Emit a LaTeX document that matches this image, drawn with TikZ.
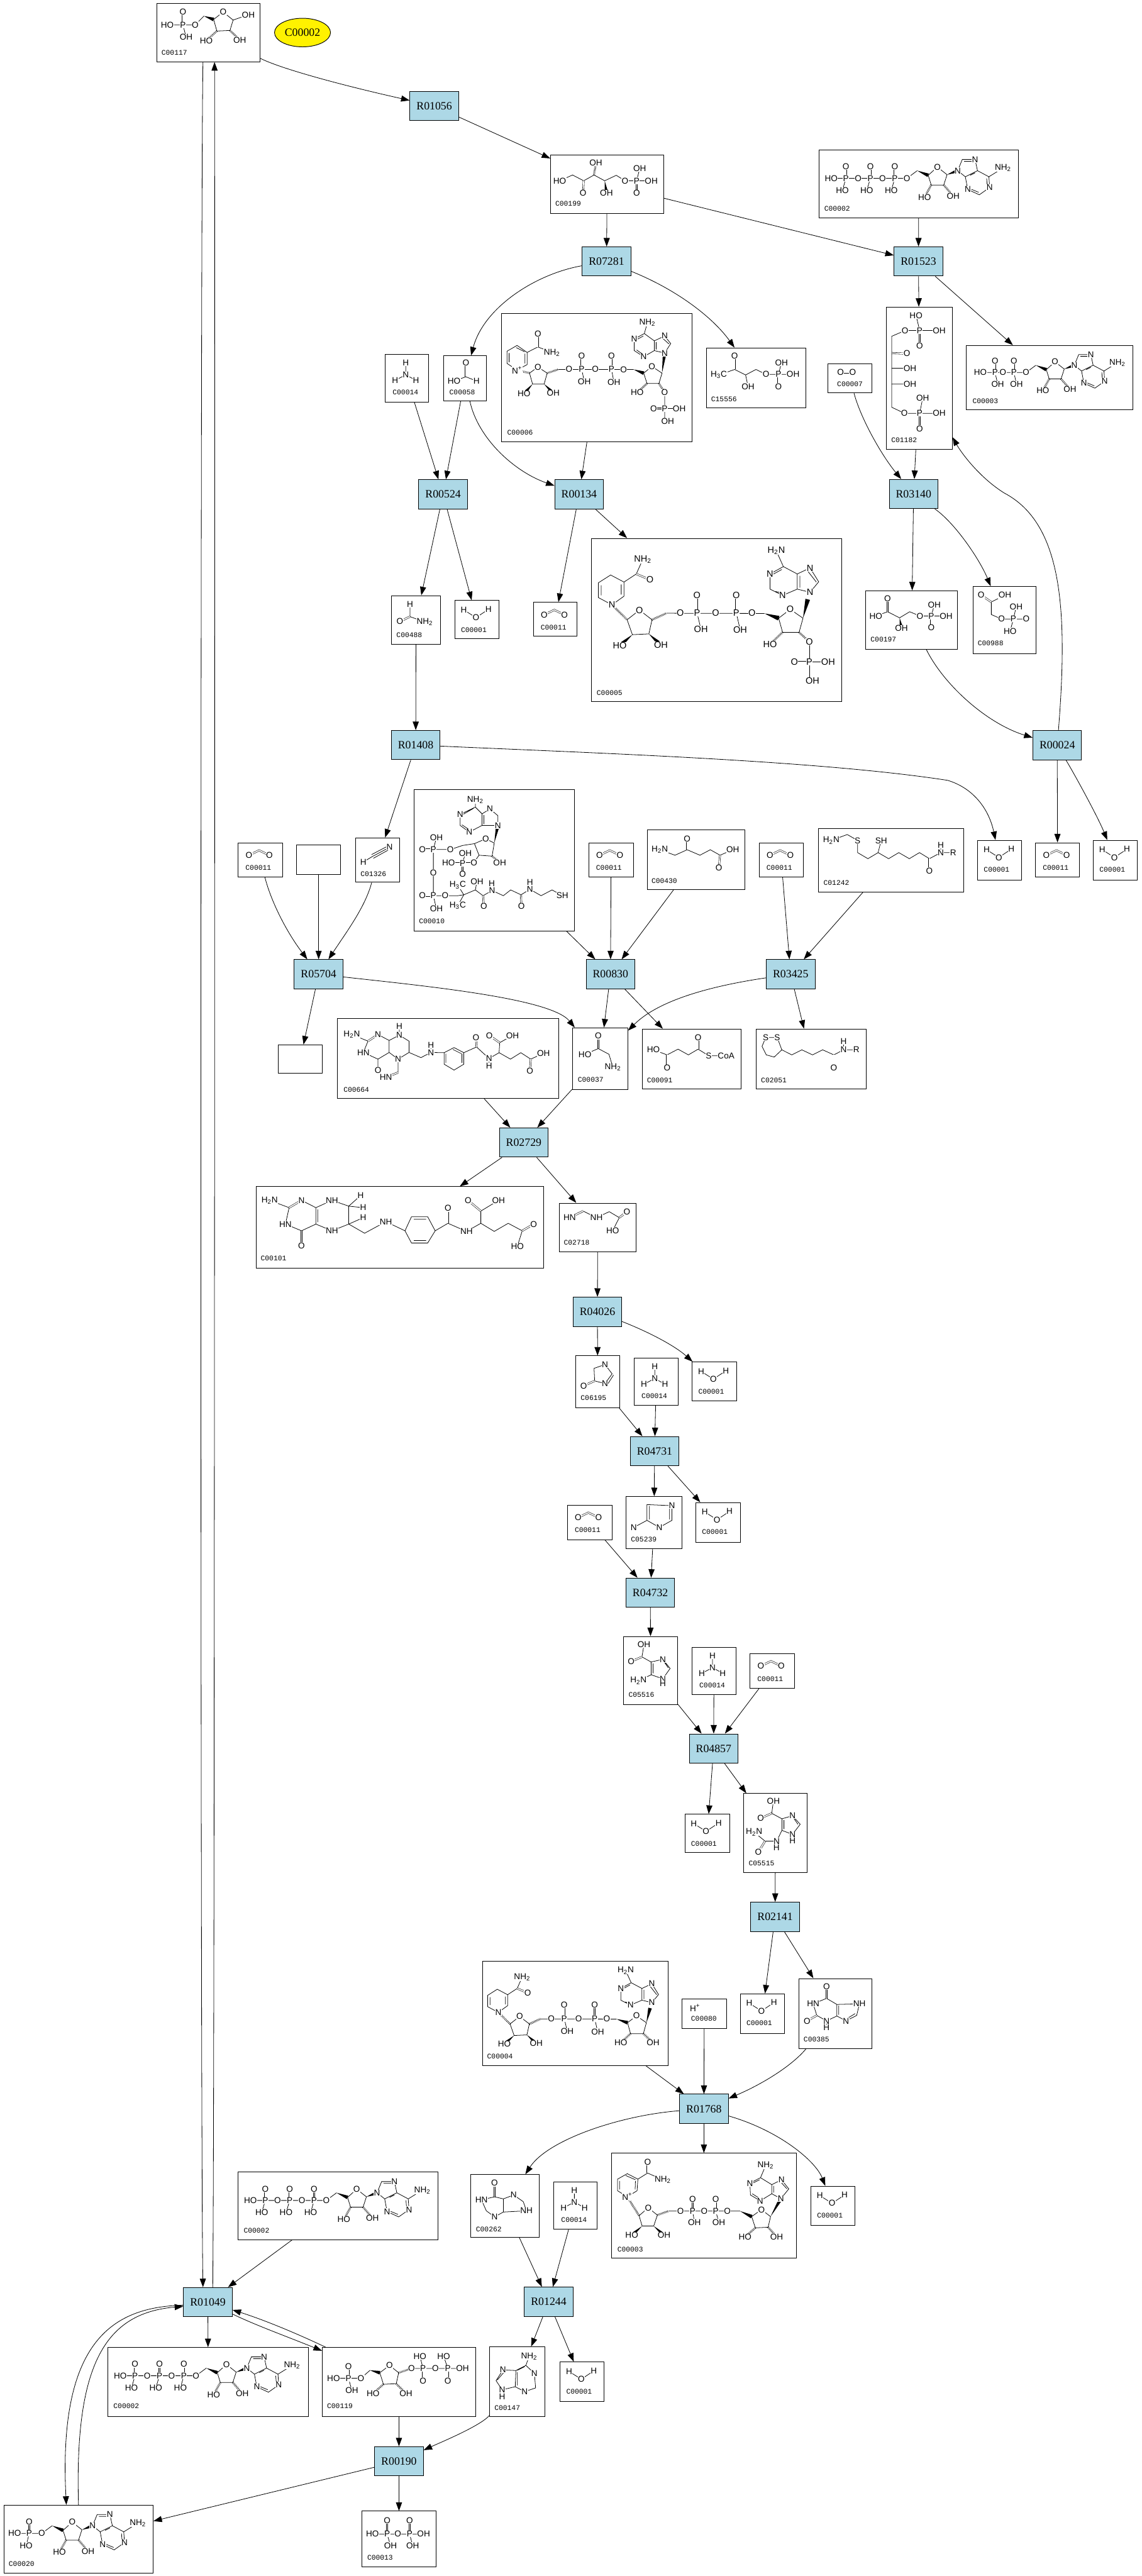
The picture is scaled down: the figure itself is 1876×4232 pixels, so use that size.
\documentclass[tikz,border=0pt]{standalone}
\usepackage{fontspec}
\setmainfont{Liberation Sans}
\newfontfamily\rxnfont{Liberation Serif}
\newfontfamily\cidfont{Liberation Mono}
\usetikzlibrary{arrows.meta,calc,shapes.geometric}
\definecolor{RxnBlue}{RGB}{173,216,230}
\newcounter{atomno}
\newcounter{cidno}
\def\molfs{7}
\tikzset{
  edge/.style={-{Triangle[length=7pt,width=5pt]},line width=.42pt,draw=black},
  reaction/.style={rectangle,draw=black,line width=.5pt,fill=RxnBlue,font=\rxnfont\fontsize{9.2}{10}\selectfont,minimum width=40pt,minimum height=24pt,inner sep=0pt},
  compound/.style={rectangle,draw=black,line width=.5pt,fill=white,anchor=north west,inner sep=0pt},
  seed/.style={ellipse,draw=black,line width=.5pt,fill=yellow,font=\rxnfont\fontsize{9.2}{10}\selectfont,minimum width=46pt,minimum height=23.5pt,inner sep=0pt},
  atom/.style={fill=white,inner sep=.25pt,font=\fontsize{\molfs}{\molfs}\selectfont},
  cid/.style={anchor=west,inner sep=0pt,font=\cidfont\fontsize{5.85}{6}\selectfont},
  bond/.style={line width=.4pt,draw=black},
  dbl/.style={line width=.3pt,draw=black,double=white,double distance=.9pt},
  hsh/.style={line width=1.7pt,draw=black,dash pattern=on .35pt off .75pt}
}
\newcommand\atm[2]{\stepcounter{atomno}\node[atom] (atom\arabic{atomno}) at (#1) {#2};}
\newcommand\atoms[1]{\foreach \ax/\ay/\at in {#1} {\atm{\ax,\ay}{\at}}}
\newcommand\cidl[2]{\stepcounter{cidno}\node[cid] (cid\arabic{cidno}) at (#1) {#2};}
\newcommand\wdg[2]{\fill ($(#2)!1.5pt!90:(#1)$) -- (#1) -- ($(#2)!1.5pt!-90:(#1)$) -- cycle;}
\newcommand\cpd[6][1]{%
  \node[compound,minimum width=#4*.5pt,minimum height=#5*.5pt] (#2) at (#3) {};
  \begin{scope}[shift={(#3)},scale=#1]
    \pgfmathsetmacro\molfs{5.25+1.75*#1}
    #6
  \end{scope}}
% small molecules
\newcommand\molWater{\draw[bond] (15,16)--(35,28.6)--(55.6,15);
  \atoms{15/16/H,35/28.6/O,55.6/15/H}\cidl{10,49}{C00001}}
\newcommand\molCO{\draw[dbl] (18,21)--(34.7,13)--(51.5,21);
  \atoms{18/21/O,51.5/21/O}\cidl{12,42}{C00011}}
\newcommand\molNH{\draw[bond] (34.7,14)--(34.7,33.7)--(17,43) (34.7,33.7)--(51.5,43);
  \atoms{34.7/14/H,34.7/33.7/N,17/43/H,51.5/43/H}\cidl{12.7,62.7}{C00014}}
\newcommand\molFormate{\draw[dbl] (37.4,12)--(37.4,35);\draw[bond] (18,42)--(37.4,35)--(55,42);
  \atoms{37.4/12/O,18/42/HO,55/42/H}\cidl{10,60}{C00058}}
\newcommand\molFormamide{\draw[bond] (30.6,15)--(30.6,35)--(55,44);\draw[dbl] (30.6,35)--(14,43);
  \atoms{30.6/15/H,14/43/O,55/44/NH\textsubscript{2}}\cidl{8,65}{C00488}}
\newcommand\molOxygen{\draw[dbl] (21,15)--(41,15);\atoms{21/15/O,41/15/O}\cidl{15,34}{C00007}}
\newcommand\molProton{\atoms{22/15.7/H\textsuperscript{+}}\cidl{15,33.3}{C00080}}
\newcommand\molHCN{\draw[bond] (13,40)--(28,31) (28,31)--(56,16) (26.5,28)--(54,13.5) (29.5,34)--(57.5,18.5);
  \atoms{13/40/H,56/16/N}\cidl{8,60}{C01326}}
% phosphorylated sugars
\newcommand\molRP{\draw[bond] (17.8,36)--(63.7,36)--(78,21.4) (43.6,36)--(48.8,56);
  \draw[dbl] (43.6,14.7)--(43.6,36);\wdg{78,21.4}{94,27}
  \draw[bond] (94,27)--(109.6,14.7)--(126,28)--(120.8,45)--(99.3,46)--cycle (126,28)--(151,19.2);
  \draw[hsh] (99.3,46)--(82,61.6) (120.8,45)--(137,60.7);
  \atoms{43.6/14.7/O,17.8/36/HO,43.6/36/P,48.8/56/OH,63.7/36/O,109.6/14.7/O,82/61.6/HO,137/60.7/OH,151/19.2/OH}
  \cidl{8,81.7}{C00117}}
\newcommand\molRuP{\draw[bond] (15.5,43)--(36.7,33.5)--(55,43)--(72,33.5)--(89.5,43)--(108.5,34)--(123,43)--(166,43) (142,43)--(147,23);
  \draw[dbl] (55,43)--(54,63);\draw[dbl] (142,43)--(142,63);\draw[hsh] (72,33.5)--(75,13.4);\wdg{89.5,43}{92.4,63}
  \atoms{15.5/43/HO,54/63/O,75/13.4/OH,92.4/63/OH,123/43/O,142/43/P,147/23/OH,166/43/OH,142/63/O}
  \cidl{8,81}{C00199}}
\newcommand\molRuBP{\draw[bond] (49,14)--(55,39) (31,39)--(87,39) (31,39)--(9,48.5)--(9,165)--(30,175)--(87,175) (9,101)--(39,101) (9,127)--(39,127) (55,175)--(60,150);
  \draw[dbl] (55,39)--(55,64);\draw[dbl] (9,76)--(34,77);\draw[dbl] (55,175)--(55,200);
  \atoms{49/14/HO,55/39/P,31/39/O,87/39/OH,55/64/O,34/77/O,39/101/OH,39/127/OH,30/175/O,55/175/P,60/150/OH,87/175/OH,55/200/O}
  \cidl{8,219}{C01182}}
\newcommand\molPG{\draw[bond] (17,42)--(36.3,35)--(56,45)--(72.6,35)--(89.4,42)--(132.4,42) (108,42)--(113,24);
  \draw[dbl] (36.3,35)--(36.3,13);\draw[dbl] (108,42)--(108,61);\wdg{56,45}{59,62.5}
  \atoms{17/42/HO,36.3/13/O,59/62.5/OH,89.4/42/O,108/42/P,113/24/OH,132.4/42/OH,108/61/O}
  \cidl{8,81}{C00197}}
\newcommand\molPGtwo{\draw[bond] (53,14.7)--(30.7,26)--(30.7,46.6)--(47.5,54)--(88,54) (67,54)--(71.5,34) (67,54)--(61.5,74);
  \draw[dbl] (14,14.7)--(30.7,26);
  \atoms{14/14.7/O,53/14.7/OH,47.5/54/O,67/54/P,71.5/34/OH,88/54/O,61.5/74/HO}
  \cidl{8,94}{C00988}}
\newcommand\molHBP{\draw[bond] (21,45)--(47,36)--(65,45)--(82,36)--(98.5,44)--(143,44) (65,45)--(69,64) (119,44)--(124,24.5);
  \draw[dbl] (47,36)--(47,14);\draw[dbl] (119,44)--(119,64);
  \atoms{21/45/H\textsubscript{3}C,47/14/O,69/64/OH,98.5/44/O,119/44/P,124/24.5/OH,143/44/OH,119/64/O}
  \cidl{8,85}{C15556}}
\newcommand\molPRPP{\draw[bond] (19,51)--(64,51)--(79,38) (43.6,51)--(49,71) (147,35)--(231,35) (166,35)--(161,15) (206.7,35)--(200,15);
  \draw[dbl] (43.6,31.4)--(43.6,51);\draw[dbl] (166,35)--(166,55);\draw[dbl] (206.7,35)--(206.7,55);\wdg{79,38}{95,42}
  \draw[bond] (95,42)--(111,30)--(126,42)--(122,60)--(101,61)--cycle;
  \draw[hsh] (101,61)--(84,76) (122,60)--(138,76) (126,42)--(147,35);
  \atoms{19/51/HO,43.6/51/P,43.6/31.4/O,49/71/OH,64/51/O,111/30/O,84/76/HO,138/76/OH,147/35/O,166/35/P,161/15/HO,166/55/O,186.5/35/O,206.7/35/P,200/15/HO,206.7/55/O,231/35/OH}
  \cidl{8,97}{C00119}}
\newcommand\molPPi{\draw[bond] (18,38)--(102,38) (42,38)--(47.6,57) (79,38)--(84,57);
  \draw[dbl] (42,15.5)--(42,38);\draw[dbl] (79,15.5)--(79,38);
  \atoms{42/15.5/O,42/38/P,18/38/HO,47.6/57/OH,59.7/38/O,79/38/P,79/15.5/O,102/38/OH,84/57/OH}
  \cidl{9,77}{C00013}}
% adenosine, origin on the 5' oxygen
\newcommand\adenosine{\draw[bond] (0,0)--(17,-12.6);\wdg{17,-12.6}{35,-5}
  \draw[bond] (35,-5)--(50,-18.6)--(66,-6)--(60.5,11)--(40,11)--cycle;
  \draw[hsh] (40,11)--(29,31) (60.5,11)--(76,29);\wdg{66,-6}{83.5,-12.6}
  \draw[bond] (83.5,-12.6)--(91,-31)--(112,-31)--(116,-12.6)--(96,-2.6)--cycle (116,-12.6)--(134.7,-2.6)--(136,15)--(119,27)--(100,18.3)--(96,-2.6) (134.7,-2.6)--(158,-17) (94,-28)--(109,-28) (104,-5)--(112,-9) (131,0)--(132,12) (106,18)--(118,23);
  \atoms{50/-18.6/O,29/31/HO,76/29/OH,83.5/-12.6/N,112/-31/N,136/15/N,100/18.3/N,158/-17/NH\textsubscript{2},0/0/O}}
\newcommand\molATP{\draw[bond] (20.6,47)--(145,47) (44.8,47)--(39,67) (85,47)--(79,67) (125,47)--(119.4,67);
  \draw[dbl] (44.8,28)--(44.8,47);\draw[dbl] (85,28)--(85,47);\draw[dbl] (125,28)--(125,47);
  \atoms{20.6/47/HO,44.8/47/P,44.8/28/O,39/67/HO,65/47/O,85/47/P,85/28/O,79/67/HO,105/47/O,125/47/P,125/28/O,119.4/67/HO}
  \begin{scope}[shift={(145,47)}]\adenosine\end{scope}\cidl{9,97}{C00002}}
\newcommand\molADP{\draw[bond] (25,47.4)--(104,47.4) (50.3,47.4)--(55,67.4) (83,47.4)--(87.4,67.4);
  \draw[dbl] (50.3,27.4)--(50.3,47.4);\draw[dbl] (83,27.4)--(83,47.4);
  \atoms{25/47.4/HO,50.3/47.4/P,50.3/27.4/O,55/67.4/OH,64/47.4/O,83/47.4/P,83/27.4/O,87.4/67.4/OH}
  \begin{scope}[shift={(104,47.4)}]\adenosine\end{scope}\cidl{11,97}{C00003}}
\newcommand\molAMP{\draw[bond] (18,47)--(62.6,47) (42,47)--(37,67);\draw[dbl] (42,28)--(42,47);
  \atoms{18/47/HO,42/47/P,42/28/O,37/67/HO}
  \begin{scope}[shift={(62.6,47)}]\adenosine\end{scope}\cidl{8,97}{C00020}}
% dinucleotides
\newcommand\nadhcore{\draw[bond] (42,56)--(42,74)--(26.7,85)--(9.3,75.7)--(9.3,57)--(25,47)--(42,56) (38.5,59)--(38.5,72) (13,60)--(13,73) (42,56)--(57.7,45.7)--(66,27);
  \draw[dbl] (57.7,45.7)--(75,53);\draw[hsh] (26.7,85)--(46,104) (77.7,104)--(96,95.7);
  \draw[bond] (46,104)--(61.7,91.7)--(77.7,104)--(73.7,122)--(52.7,123)--cycle (96,95.7)--(221,96) (135,95)--(140,116) (185,95)--(190,117);
  \wdg{52.7,123}{36.7,137}\wdg{73.7,122}{89,136}
  \draw[dbl] (135,73)--(135,95);\draw[dbl] (185,73)--(185,95);\wdg{221,96}{239,102}
  \draw[bond] (239,102)--(253.7,90.7)--(270,102)--(265,120)--(244,120)--cycle;\wdg{270,102}{276,78}
  \draw[hsh] (244,120)--(228,135);
  \draw[bond] (279,69)--(290,55.7)--(279,38)--(262.7,45.7)--(262.7,65)--cycle (262.7,65)--(244,73)--(228,65)--(228,45.7)--(245,36.3)--(262.7,45.7) (245,36.3)--(236,16.3) (266,48)--(266,63) (276,42)--(287,56) (235,68)--(244,70) (232,46)--(243,40);
  \atoms{66/27/NH\textsubscript{2},75/53/O,26.7/85/N,61.7/91.7/O,36.7/137/HO,89/136/OH,113.7/95/O,135/95/P,135/73/O,140/116/OH,158.7/95/O,185/95/P,185/73/O,190/117/OH,205/95/O,253.7/90.7/O,228/135/HO,279/69/N,279/38/N,244/73/N,228/45.7/N,236/16.3/H\textsubscript{2}N}}
\newcommand\molNADH{\draw[hsh] (265,120)--(281,135);\nadhcore\atoms{281/135/OH}\cidl{8,157}{C00004}}
\newcommand\molNADPH{\draw[hsh] (265,120)--(278,132);\draw[bond] (278,132)--(278,182) (278,158)--(302,158);\draw[dbl] (259,158)--(278,158);
  \nadhcore\atoms{278/132/O,278/158/P,259/158/O,302/158/OH,282/182/OH}\cidl{7,197}{C00005}}
\newcommand\molNAD{\draw[bond] (44,43)--(42.7,62)--(26.6,72)--(10.6,62)--(10.6,43)--(26.6,34)--cycle (40,46)--(39.5,60) (14,46)--(14,60) (24,37)--(40,44) (44,43)--(60,33)--(85,44);
  \draw[dbl] (60,14.7)--(60,33);\draw[hsh] (26.6,72)--(46,103) (76,102)--(94.5,95.5);
  \draw[bond] (46,103)--(61,90)--(76,102)--(70,120)--(51,120)--cycle (94.5,95.5)--(212,95.5) (134,95.5)--(137,114) (172,95.5)--(177,114);
  \wdg{51,120}{34,135}\wdg{70,120}{87,135}\draw[dbl] (134,76)--(134,95.5);\draw[dbl] (172,76)--(172,95.5);\wdg{212,95.5}{231,104.5}
  \draw[bond] (231,104.5)--(247,93)--(262,104.5)--(258,122)--(237,123)--cycle;\wdg{262,104.5}{279,75}
  \draw[hsh] (237,123)--(220,138) (258,122)--(272,137.5);
  \draw[bond] (279,75)--(292,59)--(280,44)--(264,52)--(264,67)--cycle (264,67)--(245,78.6)--(229,69)--(228,49.6)--(245.5,40.6)--(264,52) (245.5,40.6)--(254,20.5) (267,54)--(267,65) (279,48)--(289,59) (232,67)--(243,74) (232,50)--(244,44);
  \atoms{60/14.7/O,85/44/NH\textsubscript{2},26.6/72/N\textsuperscript{+},61/90/O,34/135/HO,87/135/OH,114/95.5/O,134/95.5/P,134/76/O,137/114/OH,153/95.5/O,172/95.5/P,172/76/O,177/114/OH,191/95.5/O,247/93/O,220/138/HO,272/137.5/OH,279/75/N,280/44/N,245/78.6/N,228/49.6/N,254/20.5/NH\textsubscript{2}}
  \cidl{10,158}{C00003}}
\newcommand\molNADP{\draw[bond] (43,64)--(43,84)--(26.5,93)--(10,82)--(10,62)--(26.5,52.5)--cycle (39.5,66)--(39.5,82) (13.5,65)--(13.5,80) (25,56)--(39,63) (43,64)--(60.7,55)--(84,64);
  \draw[dbl] (60.7,33)--(60.7,55);\draw[hsh] (26.5,93)--(47,98) (76,98)--(94,92);
  \draw[bond] (47,98)--(60.7,88)--(76,98)--(71,116)--(52,116)--cycle (94,92)--(218,92) (132.6,91)--(137,112) (181.6,91)--(185.6,113);
  \wdg{52,116}{38,131.6}\wdg{71,116}{86,130.6}\draw[dbl] (132.6,70)--(132.6,91);\draw[dbl] (181.6,70)--(181.6,91);\wdg{218,92}{234.6,98}
  \draw[bond] (234.6,98)--(248,87)--(264.7,98)--(259.6,115)--(240,115)--cycle;\wdg{264.7,98}{269,65}
  \draw[hsh] (240,115)--(224,130) (259.6,115)--(269,130);
  \draw[bond] (269,130)--(269,177) (269,177)--(274,177.5) (269,156)--(293,156);\draw[dbl] (251,156)--(269,156);
  \draw[bond] (269,65)--(279,49.5)--(269,37)--(252,45)--(252,61)--cycle (252,61)--(234.6,71)--(219,61)--(219,42)--(235.6,33)--(252,45) (235.6,33)--(240.7,15) (255,47)--(255,59) (266,41)--(276,50) (223,60)--(233,67) (223,43)--(234,37);
  \atoms{60.7/33/O,84/64/NH\textsubscript{2},26.5/93/N\textsuperscript{+},60.7/88/O,38/131.6/HO,86/130.6/OH,112/91/O,132.6/91/P,132.6/70/O,137/112/OH,155/91/O,181.6/91/P,181.6/70/O,185.6/113/OH,201.5/92/O,248/87/O,224/130/HO,269/130/O,269/156/P,251/156/O,293/156/OH,274/177.5/OH,269/65/N,269/37/N,234.6/71/N,219/42/N,240.7/15/NH\textsubscript{2}}
  \cidl{10,196}{C00006}}
% cofactors and intermediates
\newcommand\molCoA{\draw[bond] (101,17)--(101,29)--(76,41)--(76,59)--(91,70)--(112,59)--(112,40)--(101,29) (112,40)--(125,32)--(138,43)--(138,59)--(112,59) (115,42)--(115,57) (98,31)--(79,42) (79,58)--(91,66);
  \wdg{132,88}{138,59}\draw[bond] (132,88)--(118,81)--(99.5,89)--(107,108)--(128.5,109.5)--cycle (99.5,89)--(80,92)--(60,98.6)--(32,98.6)--(32,174.5)--(72,174.5) (37,79)--(32,98.6) (32,174.5)--(37,196) (107,108)--(98.6,120)--(57,120) (84.5,105)--(80,121);
  \draw[hsh] (128.5,109.5)--(141,120);\draw[dbl] (14,98.6)--(32,98.6);\draw[dbl] (14,174.5)--(32,174.5);\draw[dbl] (80,121)--(80,139);
  \draw[bond] (72,157)--(82,173)--(72,191) (72,174.5)--(82,173)--(101,165)--(113.6,174.5)--(128.5,166)--(147,174.5)--(159,165)--(176,173)--(190.7,164)--(209,174.5)--(227,165)--(244,174.5) (101,165)--(103.6,151);
  \draw[dbl] (113.6,174.5)--(115,192);\draw[dbl] (176,173)--(176.6,192);
  \atoms{101/17/NH\textsubscript{2},76/41/N,91/70/N,125/32/N,138/59/N,118/81/O,141/120/OH,98.6/120/O,60/98.6/O,32/98.6/P,37/79/OH,14/98.6/O,32/136.6/O,32/174.5/P,14/174.5/O,37/196/OH,51.4/174.5/O,84.5/105/OH,57/120/HO,80/121/P,80/139/O,72/157/H\textsubscript{3}C,72/191/H\textsubscript{3}C,103.6/151/OH,115/192/O,128.5/166/N,128/154/H,176.6/192/O,190.7/164/N,190.7/152/H,244/174.5/SH}
  \cidl{8,216}{C00010}}
\newcommand\molALA{\draw[bond] (21,33)--(46,42)--(66,33)--(87,42)--(104,33)--(120,42)--(141,33);\draw[dbl] (66,33)--(66,15);\draw[dbl] (120,42)--(118,63);
  \atoms{21/33/H\textsubscript{2}N,66/15/O,141/33/OH,118/63/O}\cidl{7,84}{C00430}}
\newcommand\molDHL{\draw[bond] (21.7,19.7)--(48,10)--(65,19.7)--(65,39.7)--(82,49.7)--(98.7,39.7)--(116,49.7)--(132.7,39.7)--(150,49.7)--(166.7,39.7)--(183,49.7)--(201.7,39.7)--(222,39.7) (98.7,39.7)--(103.7,19.7) (201.7,39.7)--(201.7,27);
  \draw[dbl] (183,49.7)--(183,69.7);
  \atoms{21.7/19.7/H\textsubscript{2}N,65/19.7/S,103.7/19.7/SH,183/69.7/O,201.7/39.7/N,201.7/27/H,222/39.7/R}\cidl{8.7,89.7}{C01242}}
\newcommand\molLipo{\draw[bond] (16,14.6)--(35,14.6)--(42.5,34.7)--(30,46.6)--(17,43)--(10,29)--(16,14.6) (42.5,34.7)--(59,43)--(75.4,34.7)--(93,43)--(109.6,34.7)--(128,43)--(144,34.7)--(165,34.7) (144,34.7)--(144,21);
  \draw[dbl] (128,43)--(128,64.5);
  \atoms{16/14.6/S,35/14.6/S,128/64.5/O,144/34.7/N,144/21/H,165/34.7/R}\cidl{8,84.5}{C02051}}
\newcommand\molSuc{\draw[bond] (18.6,34.7)--(41,43)--(59,33.6)--(76,43)--(92,33.6)--(109.4,44.4)--(125,44.4);\draw[dbl] (41,43)--(41,64.5);\draw[dbl] (92,33.6)--(92,14.6);
  \atoms{18.6/34.7/HO,41/64.5/O,92/14.6/O,109.4/44.4/S,138/44.4/CoA}\cidl{7.5,84.5}{C00091}}
\newcommand\molGly{\draw[bond] (21,44)--(43,34.7)--(60.5,44)--(67,65.6);\draw[dbl] (43,14)--(43,34.7);
  \atoms{43/14/O,21/44/HO,67/65.6/NH\textsubscript{2}}\cidl{9,86}{C00037}}
\newcommand\molFTHF{\draw[bond] (24,26.6)--(50.6,37.4)--(67,26.6)--(85.4,36.3)--(102,27.6)--(118,37.4)--(118,56)--(100,67)--(85.4,56)--(85.4,36.3) (85.4,56)--(67,67)--(43,56)--(50.6,37.4) (67,67)--(67,85) (102,27.6)--(102,13.5) (100,67)--(100,89) (118,56)--(137.6,64.5)--(154,56)--(175.7,56.4)--(192,48)--(208,56.4)--(208,75.3)--(192,85)--(175.7,75.3)--(175.7,56.4) (154,56)--(154,44) (208,56.4)--(229,47)--(249.5,66)--(266,56.4)--(267,40)--(288,28) (249.5,66)--(249.5,78) (266,56.4)--(284.7,67)--(301.7,56.4)--(318,67)--(339,57.4) (178.5,58)--(178.5,73) (190,51)--(204,58) (205,58)--(205,73);
  \draw[dbl] (100,89)--(80,97);\draw[dbl] (229,47)--(228,32);\draw[dbl] (267,40)--(250,28);\draw[dbl] (318,67)--(316.7,86);\draw[dbl] (50.6,37.4)--(67,26.6);
  \atoms{24/26.6/H\textsubscript{2}N,67/26.6/N,102/27.6/N,102/13.5/H,100/67/N,43/56/HN,67/85/O,80/97/HN,154/56/N,154/44/H,228/32/O,249.5/66/N,249.5/78/H,250/28/O,288/28/OH,339/57.4/OH,316.7/86/O}
  \cidl{10,117}{C00664}}
\newcommand\molTHF{\draw[bond] (23,23)--(55,35)--(75.4,23)--(99,35)--(125.4,23)--(153,32.5)--(153,62)--(125.4,73)--(99,62)--(99,35) (99,62)--(75.4,73)--(49,62)--(55,35) (153,32.5)--(172.5,15) (153,32.5)--(176.6,35) (153,62)--(176.6,51.5) (153,62)--(179,77)--(214,58)--(245.4,73) (245.4,73)--(256,50)--(282.7,50)--(295,73)--(282.7,93)--(256,93)--cycle (295,73)--(316,60.7)--(346.5,74)--(370,60.7)--(370,40.6)--(399,23) (370,60.7)--(392,74)--(415,60.7)--(438,73)--(430,98.6) (260,54)--(280,54) (260,89)--(280,89) (102,38)--(102,59);
  \draw[dbl] (75.4,73)--(75.4,97.5);\draw[dbl] (316,60.7)--(316,36);\draw[dbl] (370,40.6)--(349,23);\draw[dbl] (438,73)--(456.8,62);\draw[dbl] (55,35)--(75.4,23);
  \atoms{23/23/H\textsubscript{2}N,75.4/23/N,125.4/23/NH,172.5/15/H,176.6/35/H,176.6/51.5/H,125.4/73/NH,75.4/97.5/O,49/62/HN,214/58/NH,316/36/O,346.5/74/NH,349/23/O,399/23/OH,456.8/62/O,430/98.6/HO}
  \cidl{8,118}{C00101}}
\newcommand\molFGAM{\draw[bond] (40,13.6)--(62,24.4)--(83,14.6)--(99.5,24.4)--(88.7,45.5);\draw[dbl] (18,24.4)--(40,13.6);\draw[dbl] (99.5,24.4)--(112,14.6);
  \atoms{18/24.4/HN,62/24.4/NH,112/14.6/O,88.7/45.5/HO}\cidl{8,65.6}{C02718}}
\newcommand\molFGAMtwo{\draw[bond] (49,14.7)--(31,21)--(32,41.6)--(49,46) (49,14.7)--(60.7,30)--(49,46) (54,46)--(63,32);\draw[dbl] (14,49.5)--(32,41.6);
  \atoms{49/14.7/N,14/49.5/O,49/46/N}\cidl{8.7,69.6}{C06195}}
\newcommand\molAIR{\draw[bond] (76,15.6)--(35,13.8)--(35,39.7)--(13.3,51.3) (35,39.7)--(55.3,51.3)--(76,39.7)--(76,15.6) (39,16)--(39,38) (72,18)--(72,38);
  \atoms{76/15.6/N,13.3/51.3/N,55.3/51.3/N}\cidl{8.3,71.4}{C05239}}
\newcommand\molCAIR{\draw[bond] (34,14)--(30.7,34)--(45.7,42.4)--(65,38)--(77,53)--(65,70)--(46,63.4)--(45.7,42.4) (46,63.4)--(25,73) (49,45)--(49,61) (67,42)--(74,52);\draw[dbl] (13,41.5)--(30.7,34);
  \atoms{34/14/OH,13/41.5/O,65/38/N,65/70/N,65/77.6/H,25/73/H\textsubscript{2}N}\cidl{8.3,96.4}{C05516}}
\newcommand\molNCAIR{\draw[bond] (49.7,12.6)--(47,33)--(63.7,42)--(81,37)--(93.7,51)--(81,67.6)--(63.7,61)--(63.7,42) (63.7,61)--(55,78.7)--(36,78.7)--(18,64) (55,78.7)--(54.7,89.8) (67,44)--(67,59) (83,41)--(90,51);\draw[dbl] (28.7,41)--(47,33);\draw[dbl] (36,78.7)--(25,96.5);
  \atoms{49.7/12.6/OH,28.7/41/O,81/37/N,81/67.6/N,81/78/H,55/78.7/N,54.7/89.8/H,18/64/H\textsubscript{2}N,25/96.5/O}\cidl{8.7,115.5}{C05515}}
\newcommand\molXan{\draw[bond] (46,33)--(24,42)--(30,61)--(46,70)--(63,62)--(63,43)--(46,33) (63,43)--(100,42)--(95.5,61)--(78,70)--(63,62) (66,45)--(66,60) (46,70)--(46,81) (80,66)--(93,58);\draw[dbl] (46,14)--(46,33);\draw[dbl] (14,70)--(30,61);
  \atoms{46/14/O,24/42/HN,14/70/O,46/70/N,46/81/H,100/42/NH,78/70/N}\cidl{8,100}{C00385}}
\newcommand\molHyp{\draw[bond] (39.6,37)--(18,42)--(26,60)--(39.6,70)--(54,62)--(92,60)--(86.7,45)--(71,34)--(54,40.4)--(39.6,37) (54,40.4)--(54,62);\draw[dbl] (39.6,14.5)--(39.6,37);
  \atoms{39.6/14.5/O,18/42/HN,39.6/70/N,71/34/N,92/60/NH}\cidl{8.6,90}{C00262}}
\newcommand\molAde{\draw[bond] (65.4,16)--(60,31)--(74,44)--(76,68)--(58,74)--(42.5,66)--(43.6,39.4)--(60,31) (43.6,39.4)--(22.4,38.4)--(11,56)--(21,71)--(42.5,66) (46,42)--(46,64) (58,33)--(46,39) (25,41)--(13,55);
  \atoms{65.4/16/NH\textsubscript{2},74/44/N,58/74/N,22.4/38.4/N,21/71/N,21/82/H}\cidl{8,100.7}{C00147}}
\begin{document}
\begin{tikzpicture}[x=.5pt,y=-.5pt]
  \useasboundingbox (0,0) rectangle (1876,4232);
  % compounds, top of the sheet downwards
  \cpd{C00117}{257,5}{170}{96}{\molRP}
  \node[seed] (C00002seed) at (497,53.5) {C00002};
  \cpd{C00199}{904,254}{186}{96}{\molRuP}
  \cpd{C00002a}{1345,246}{328}{111}{\molATP}
  \cpd[.95]{C00008}{1587,567}{274}{106}{\molADP}
  \cpd{C01182}{1456,504}{108}{234}{\molRuBP}
  \cpd{C00007}{1360,597}{72}{48}{\molOxygen}
  \cpd{C00014a}{632,582}{72}{78}{\molNH}
  \cpd{C00058}{728,584}{71}{74}{\molFormate}
  \cpd{C00006}{823,515}{313}{210}{\molNADP}
  \cpd{C15556}{1160,571}{164}{98}{\molHBP}
  \cpd{C00488}{643,978}{80}{80}{\molFormamide}
  \cpd{C00001a}{747,986}{72}{63}{\molWater}
  \cpd{C00011a}{876,989}{71}{56}{\molCO}
  \cpd[1.29]{C00005}{971,884}{411}{268}{\molNADPH}
  \cpd{C00197}{1422,970}{151}{96}{\molPG}
  \cpd{C00988}{1598,963}{104}{110}{\molPGtwo}
  \cpd{C00001b}{1606,1380}{72}{65}{\molWater}
  \cpd{C00011b}{1701,1384}{72}{56}{\molCO}
  \cpd{C00001c}{1796,1380}{72}{65}{\molWater}
  \cpd{C00011c}{391,1384}{73}{56}{\molCO}
  \cpd{blankin}{487,1388}{72}{48}{}
  \cpd{C01326}{584,1376}{72}{73}{\molHCN}
  \cpd{C00010}{680,1297}{263}{232}{\molCoA}
  \cpd{C00011d}{967,1384}{73}{56}{\molCO}
  \cpd{C00430}{1063,1363}{160}{98}{\molALA}
  \cpd{C00011e}{1247,1384}{72}{56}{\molCO}
  \cpd{C01242}{1344,1361}{239}{104}{\molDHL}
  \cpd{blankout}{457,1716}{72}{47}{}
  \cpd{C00664}{554,1673}{363}{131}{\molFTHF}
  \cpd{C00037}{940,1688}{91}{101}{\molGly}
  \cpd{C00091}{1055,1690}{162}{98}{\molSuc}
  \cpd{C02051}{1242,1690}{181}{98}{\molLipo}
  \cpd{C00101}{420,1949}{473}{134}{\molTHF}
  \cpd{C02718}{918,1976}{127}{80}{\molFGAM}
  \cpd{C06195}{945,2227}{73}{85}{\molFGAMtwo}
  \cpd{C00014b}{1041,2231}{73}{77}{\molNH}
  \cpd{C00001d}{1137,2237}{73}{64}{\molWater}
  \cpd{C05239}{1028,2458}{92}{86}{\molAIR}
  \cpd{C00001e}{1143,2468}{73}{65}{\molWater}
  \cpd{C00011f}{932,2472}{73}{57}{\molCO}
  \cpd{C05516}{1024,2688}{89}{112}{\molCAIR}
  \cpd{C00014c}{1136,2706}{73}{77}{\molNH}
  \cpd{C00011g}{1232,2716}{73}{57}{\molCO}
  \cpd{C00001f}{1125,2980}{73}{63}{\molWater}
  \cpd{C05515}{1221,2946}{105}{130}{\molNCAIR}
  \cpd{C00001g}{1216,3275}{72}{65}{\molWater}
  \cpd{C00385}{1312,3250}{120}{115}{\molXan}
  \cpd{C00004}{792,3221}{305}{172}{\molNADH}
  \cpd{C00080}{1120,3283}{73}{49}{\molProton}
  \cpd{C00003}{1004,3537}{304}{172}{\molNAD}
  \cpd{C00001h}{1332,3591}{72}{64}{\molWater}
  \cpd{C00262}{773,3572}{112}{103}{\molHyp}
  \cpd{C00014d}{909,3584}{71}{78}{\molNH}
  \cpd{C00147}{804,3855}{91}{115}{\molAde}
  \cpd{C00001i}{920,3880}{72}{65}{\molWater}
  \cpd{C00002b}{391,3568}{328}{111}{\molATP}
  \cpd{C00002c}{177,3856}{329}{113}{\molATP}
  \cpd{C00119}{529,3856}{252}{113}{\molPRPP}
  \cpd{C00020}{6,4115}{245}{112}{\molAMP}
  \cpd{C00013}{594,4125}{122}{91}{\molPPi}
  % reactions
  \node[reaction] (R01056) at (713.5,174) {R01056};
  \node[reaction] (R07281) at (996.5,429.5) {R07281};
  \node[reaction] (R01523) at (1509,429.5) {R01523};
  \node[reaction] (R00524) at (728,812) {R00524};
  \node[reaction] (R00134) at (951.5,812) {R00134};
  \node[reaction] (R03140) at (1501,811.5) {R03140};
  \node[reaction] (R01408) at (683,1224) {R01408};
  \node[reaction] (R00024) at (1737,1224.5) {R00024};
  \node[reaction] (R05704) at (523.5,1600.5) {R05704};
  \node[reaction] (R00830) at (1003,1600.5) {R00830};
  \node[reaction] (R03425) at (1299,1600.5) {R03425};
  \node[reaction] (R02729) at (860.5,1877) {R02729};
  \node[reaction] (R04026) at (981.5,2155) {R04026};
  \node[reaction] (R04731) at (1075.5,2384) {R04731};
  \node[reaction] (R04732) at (1068.5,2616.5) {R04732};
  \node[reaction] (R04857) at (1172.5,2872.5) {R04857};
  \node[reaction] (R02141) at (1273.5,3149) {R02141};
  \node[reaction] (R01768) at (1156.5,3464.5) {R01768};
  \node[reaction] (R01244) at (901.5,3781.5) {R01244};
  \node[reaction] (R01049) at (341.5,3782) {R01049};
  \node[reaction] (R00190) at (655.5,4043.5) {R00190};
  % connectors
  \draw[edge] (C00117) .. controls (464,114) and (570,142) .. (R01056);
  \draw[edge] (R01056) -- (C00199);
  \draw[edge] (C00199) -- (R07281);
  \draw[edge] (C00199) -- (R01523);
  \draw[edge] (C00002a) -- (R01523);
  \draw[edge] (R01523) -- (C01182);
  \draw[edge] (R01523) -- (C00008);
  \draw[edge] (R07281) .. controls (880,450) and (795,505) .. (C00058);
  \draw[edge] (R07281) .. controls (1110,475) and (1170,520) .. (C15556);
  \draw[edge] (C00014a) -- (R00524);
  \draw[edge] (C00058) -- (R00524);
  \draw[edge] (C00058) .. controls (785,720) and (845,775) .. (R00134);
  \draw[edge] (C00006) -- (R00134);
  \draw[edge] (R00524) -- (C00488);
  \draw[edge] (R00524) -- (C00001a);
  \draw[edge] (R00134) -- (C00011a);
  \draw[edge] (R00134) -- (C00005);
  \draw[edge] (C00488) -- (R01408);
  \draw[edge] (R01408) -- (C01326);
  \draw[edge] (R01408) .. controls (1000,1238) and (1350,1250) .. (1557,1282) .. controls (1600,1295) and (1625,1330) .. (C00001b);
  \draw[edge] (C00007) .. controls (1415,690) and (1450,750) .. (R03140);
  \draw[edge] (C01182) -- (R03140);
  \draw[edge] (R03140) -- (C00197);
  \draw[edge] (R03140) .. controls (1570,860) and (1610,920) .. (C00988);
  \draw[edge] (C00197) .. controls (1550,1124) and (1620,1188) .. (R00024);
  \draw[edge] (R00024) .. controls (1755,1000) and (1745,860) .. (1650,810) .. controls (1610,785) and (1580,745) .. (C01182);
  \draw[edge] (R00024) -- (C00011b);
  \draw[edge] (R00024) .. controls (1770,1280) and (1805,1345) .. (C00001c);
  \draw[edge] (C00011c) .. controls (445,1480) and (470,1530) .. (R05704);
  \draw[edge] (blankin) -- (R05704);
  \draw[edge] (C01326) .. controls (600,1490) and (570,1530) .. (R05704);
  \draw[edge] (C00010) -- (R00830);
  \draw[edge] (C00011d) -- (R00830);
  \draw[edge] (C00430) -- (R00830);
  \draw[edge] (C00011e) -- (R03425);
  \draw[edge] (C01242) -- (R03425);
  \draw[edge] (R05704) -- (blankout);
  \draw[edge] (R05704) .. controls (700,1620) and (905,1640) .. (C00037);
  \draw[edge] (R00830) -- (C00037);
  \draw[edge] (R00830) -- (C00091);
  \draw[edge] (R03425) .. controls (1180,1618) and (1085,1640) .. (C00037);
  \draw[edge] (R03425) -- (C02051);
  \draw[edge] (C00664) -- (R02729);
  \draw[edge] (C00037) -- (R02729);
  \draw[edge] (R02729) -- (C00101);
  \draw[edge] (R02729) -- (C02718);
  \draw[edge] (C02718) -- (R04026);
  \draw[edge] (R04026) -- (C06195);
  \draw[edge] (R04026) .. controls (1070,2190) and (1110,2212) .. (C00001d);
  \draw[edge] (C06195) -- (R04731);
  \draw[edge] (C00014b) -- (R04731);
  \draw[edge] (R04731) -- (C05239);
  \draw[edge] (R04731) -- (C00001e);
  \draw[edge] (C00011f) -- (R04732);
  \draw[edge] (C05239) -- (R04732);
  \draw[edge] (R04732) -- (C05516);
  \draw[edge] (C05516) -- (R04857);
  \draw[edge] (C00014c) -- (R04857);
  \draw[edge] (C00011g) -- (R04857);
  \draw[edge] (R04857) -- (C00001f);
  \draw[edge] (R04857) -- (C05515);
  \draw[edge] (C05515) -- (R02141);
  \draw[edge] (R02141) -- (C00001g);
  \draw[edge] (R02141) -- (C00385);
  \draw[edge] (C00004) -- (R01768);
  \draw[edge] (C00080) -- (R01768);
  \draw[edge] (C00385) .. controls (1300,3395) and (1250,3425) .. (R01768);
  \draw[edge] (R01768) .. controls (1020,3475) and (900,3515) .. (C00262);
  \draw[edge] (R01768) -- (C00003);
  \draw[edge] (R01768) .. controls (1280,3500) and (1340,3550) .. (C00001h);
  \draw[edge] (C00262) -- (R01244);
  \draw[edge] (C00014d) -- (R01244);
  \draw[edge] (R01244) -- (C00147);
  \draw[edge] (R01244) -- (C00001i);
  \draw[edge] (C00147) .. controls (790,3985) and (725,4012) .. (R00190);
  \draw[edge] (C00119) -- (R00190);
  \draw[edge] (R00190) -- (C00020);
  \draw[edge] (R00190) -- (C00013);
  \draw[edge] (C00002b) -- (R01049);
  \draw[edge] (R01049) -- (C00002c);
  \draw[edge] (R01049) .. controls (420,3820) and (470,3838) .. (C00119);
  \draw[edge] (C00119) .. controls (480,3830) and (430,3810) .. (R01049);
  % the long pair on the left
  \draw[edge] ($(C00117.south)+(-9,0)$) .. controls (329,300) and (329,3500) .. ($(R01049.north)+(-8,0)$);
  \draw[edge] ($(R01049.north)+(8,0)$) .. controls (353,3500) and (353,300) .. ($(C00117.south)+(10,0)$);
  \draw[edge] ($(R01049.west)+(0,5)$) .. controls (190,3790) and (95,3840) .. ($(C00020.north)+(-20,0)$);
  \draw[edge] (C00020.north) .. controls (122,3880) and (175,3800) .. ($(R01049.west)+(0,7)$);
\end{tikzpicture}
\end{document}
